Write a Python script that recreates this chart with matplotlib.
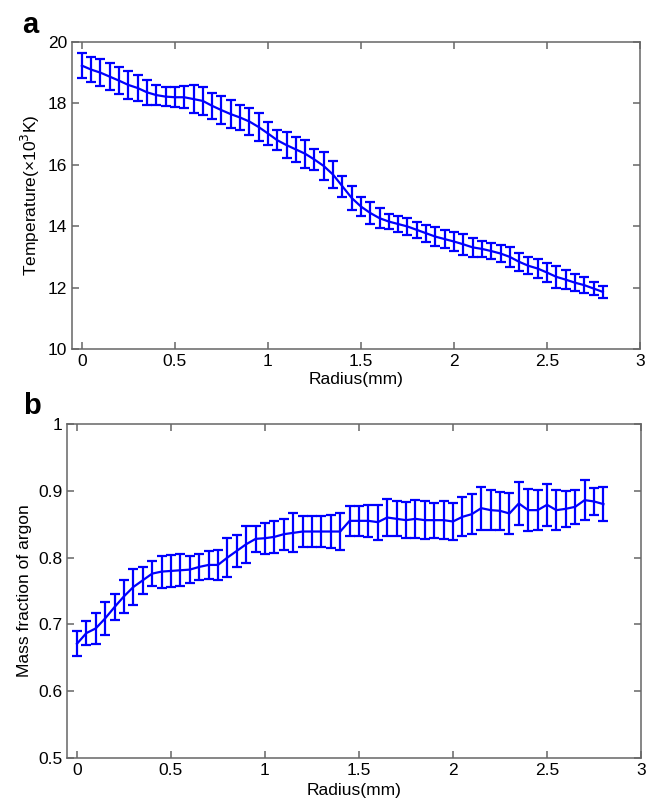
import numpy as np
import matplotlib.pyplot as plt

plt.rcParams['font.family'] = ['Liberation Sans', 'DejaVu Sans']

radius = np.round(np.arange(57) * 0.05, 2)

temperature = [19.23, 19.10, 19.00, 18.87, 18.74, 18.60, 18.50, 18.36, 18.27, 18.22,
               18.20, 18.20, 18.14, 18.08, 17.92, 17.78, 17.65, 17.54, 17.41, 17.23,
               17.02, 16.80, 16.64, 16.50, 16.36, 16.17, 15.96, 15.68, 15.30, 14.92,
               14.64, 14.43, 14.26, 14.15, 14.07, 13.99, 13.88, 13.77, 13.66, 13.58,
               13.50, 13.41, 13.31, 13.26, 13.19, 13.11, 13.00, 12.84, 12.71, 12.62,
               12.49, 12.35, 12.26, 12.16, 12.08, 11.97, 11.86]
temperature_err = [0.40, 0.42, 0.45, 0.45, 0.45, 0.45, 0.42, 0.40, 0.32, 0.30,
                   0.33, 0.35, 0.45, 0.45, 0.42, 0.45, 0.45, 0.42, 0.45, 0.45,
                   0.38, 0.32, 0.42, 0.40, 0.45, 0.35, 0.45, 0.45, 0.35, 0.38,
                   0.32, 0.35, 0.33, 0.25, 0.25, 0.28, 0.25, 0.28, 0.32, 0.30,
                   0.30, 0.35, 0.30, 0.25, 0.25, 0.28, 0.32, 0.30, 0.28, 0.30,
                   0.32, 0.35, 0.30, 0.28, 0.25, 0.22, 0.20]

argon = [0.671, 0.687, 0.694, 0.709, 0.726, 0.742, 0.756, 0.766, 0.776, 0.779,
         0.780, 0.781, 0.782, 0.786, 0.789, 0.789, 0.800, 0.810, 0.820, 0.828,
         0.829, 0.831, 0.835, 0.837, 0.839, 0.839, 0.839, 0.839, 0.839, 0.855,
         0.855, 0.855, 0.853, 0.860, 0.858, 0.856, 0.858, 0.856, 0.856, 0.856,
         0.854, 0.861, 0.865, 0.874, 0.871, 0.870, 0.866, 0.881, 0.871, 0.871,
         0.879, 0.871, 0.873, 0.876, 0.886, 0.884, 0.880]
argon_err = [0.019, 0.018, 0.023, 0.025, 0.020, 0.025, 0.027, 0.020, 0.019, 0.024,
             0.024, 0.024, 0.020, 0.020, 0.021, 0.022, 0.029, 0.024, 0.028, 0.020,
             0.023, 0.024, 0.023, 0.029, 0.023, 0.023, 0.023, 0.025, 0.027, 0.022,
             0.022, 0.024, 0.026, 0.028, 0.026, 0.027, 0.028, 0.028, 0.026, 0.028,
             0.028, 0.029, 0.030, 0.032, 0.030, 0.028, 0.030, 0.032, 0.031, 0.030,
             0.031, 0.030, 0.027, 0.025, 0.030, 0.020, 0.025]

xticks = [0, 0.5, 1, 1.5, 2, 2.5, 3]
xticklabels = ['0', '0.5', '1', '1.5', '2', '2.5', '3']


def style_axes(ax):
    for s in ax.spines.values():
        s.set_color('#666666')
        s.set_linewidth(1.1)
    ax.tick_params(direction='in', length=5, width=1.1, color='#666666',
                   top=True, right=True, labelsize=12.5, pad=3.5)
    ax.set_xticks(xticks)
    ax.set_xticklabels(xticklabels)


fig = plt.figure(figsize=(6.57, 8.01), dpi=100)

ax1 = fig.add_axes([0.1096, 0.5643, 0.8646, 0.3833])
ax1.errorbar(radius, temperature, yerr=temperature_err, color='#0000ff',
             lw=1.6, elinewidth=1.6, capsize=3.8, capthick=1.6)
ax1.set_xlim(-0.053, 3)
ax1.set_ylim(10, 20)
ax1.set_yticks([10, 12, 14, 16, 18, 20])
style_axes(ax1)
ax1.set_xlabel('Radius(mm)', fontsize=12.5)
ax1.set_ylabel('Temperature(×10$^3$K)', fontsize=12.5)
ax1.xaxis.set_label_coords(0.5, -0.075)
ax1.yaxis.set_label_coords(-0.053, 0.5)

ax2 = fig.add_axes([0.102, 0.0537, 0.8737, 0.417])
ax2.errorbar(radius, argon, yerr=argon_err, color='#0000ff',
             lw=1.6, elinewidth=1.6, capsize=3.8, capthick=1.6)
ax2.set_xlim(-0.053, 3)
ax2.set_ylim(0.5, 1)
ax2.set_yticks([0.5, 0.6, 0.7, 0.8, 0.9, 1])
ax2.set_yticklabels(['0.5', '0.6', '0.7', '0.8', '0.9', '1'])
style_axes(ax2)
ax2.set_xlabel('Radius(mm)', fontsize=12.5)
ax2.set_ylabel('Mass fraction of argon', fontsize=12.5)
ax2.xaxis.set_label_coords(0.5, -0.075)
ax2.yaxis.set_label_coords(-0.061, 0.5)

fig.text(30 / 657, 1 - 25 / 801, 'a', fontsize=21, fontweight='bold',
         ha='center', va='center')
fig.text(32 / 657, 1 - 406 / 801, 'b', fontsize=21, fontweight='bold',
         ha='center', va='center')

fig.savefig('out.png', dpi=100)
